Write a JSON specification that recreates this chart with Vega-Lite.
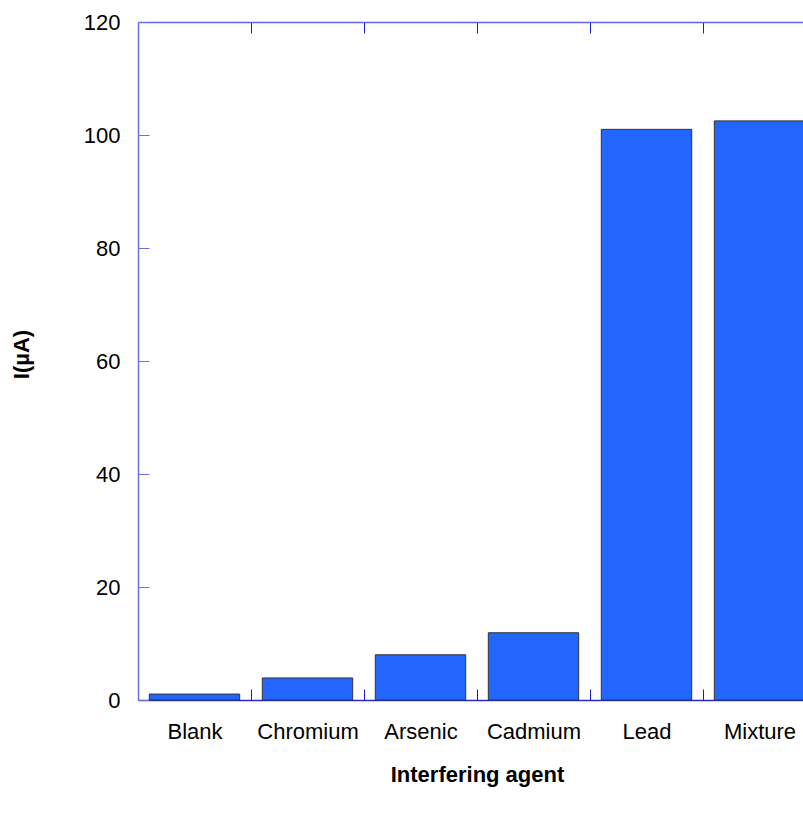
{
  "$schema": "https://vega.github.io/schema/vega-lite/v6.json",
  "autosize": {"type": "none"},
  "padding": {"left": 138, "top": 22, "right": 0, "bottom": 114},
  "width": 665,
  "height": 678,
  "background": "white",
  "config": {
    "view": {"stroke": null},
    "font": "Liberation Sans",
    "axis": {
      "labelFont": "Liberation Sans",
      "labelFontSize": 22,
      "labelColor": "#000000",
      "titleFont": "Liberation Sans",
      "titleFontSize": 22,
      "titleFontWeight": "bold",
      "titleColor": "#000000",
      "grid": false
    }
  },
  "data": {
    "values": [
      {"agent": "Blank", "current": 1.05},
      {"agent": "Chromium", "current": 3.9},
      {"agent": "Arsenic", "current": 8.0},
      {"agent": "Cadmium", "current": 11.9},
      {"agent": "Lead", "current": 101.0},
      {"agent": "Mixture", "current": 102.5}
    ]
  },
  "resolve": {"axis": {"x": "independent"}},
  "layer": [
    {
      "mark": {"type": "bar", "fill": "#2266ff", "stroke": "#333333", "strokeWidth": 1},
      "encoding": {
        "x": {
          "field": "agent",
          "type": "nominal",
          "sort": null,
          "scale": {"range": [0, 678], "paddingInner": 0.2, "paddingOuter": 0.1},
          "axis": {
            "orient": "bottom",
            "title": "Interfering agent",
            "titlePadding": 22,
            "labelAngle": 0,
            "labelPadding": 32,
            "tickOffset": 56.5,
            "labelOffset": -56.5,
            "tickSize": -11,
            "tickColor": "#1a1acc",
            "domainColor": "#2a2acc",
            "domainWidth": 1.5
          }
        },
        "y": {
          "field": "current",
          "type": "quantitative",
          "scale": {"domain": [0, 120], "nice": false},
          "axis": {
            "title": "I(µA)",
            "titlePadding": 50,
            "titleY": 332,
            "values": [0, 20, 40, 60, 80, 100, 120],
            "tickSize": -11,
            "labelPadding": 29,
            "tickColor": "#6f6fee",
            "domainColor": "#6f6fee",
            "domainWidth": 1.5
          }
        }
      }
    },
    {
      "mark": {"type": "bar", "fillOpacity": 0, "strokeOpacity": 0},
      "encoding": {
        "x": {
          "field": "agent",
          "type": "nominal",
          "sort": null,
          "axis": {
            "orient": "top",
            "title": null,
            "labels": false,
            "tickOffset": 56.5,
            "tickSize": -11,
            "tickColor": "#1a1acc",
            "domainColor": "#6060ee",
            "domainWidth": 1.5
          }
        },
        "y": {"field": "current", "type": "quantitative"}
      }
    }
  ]
}
